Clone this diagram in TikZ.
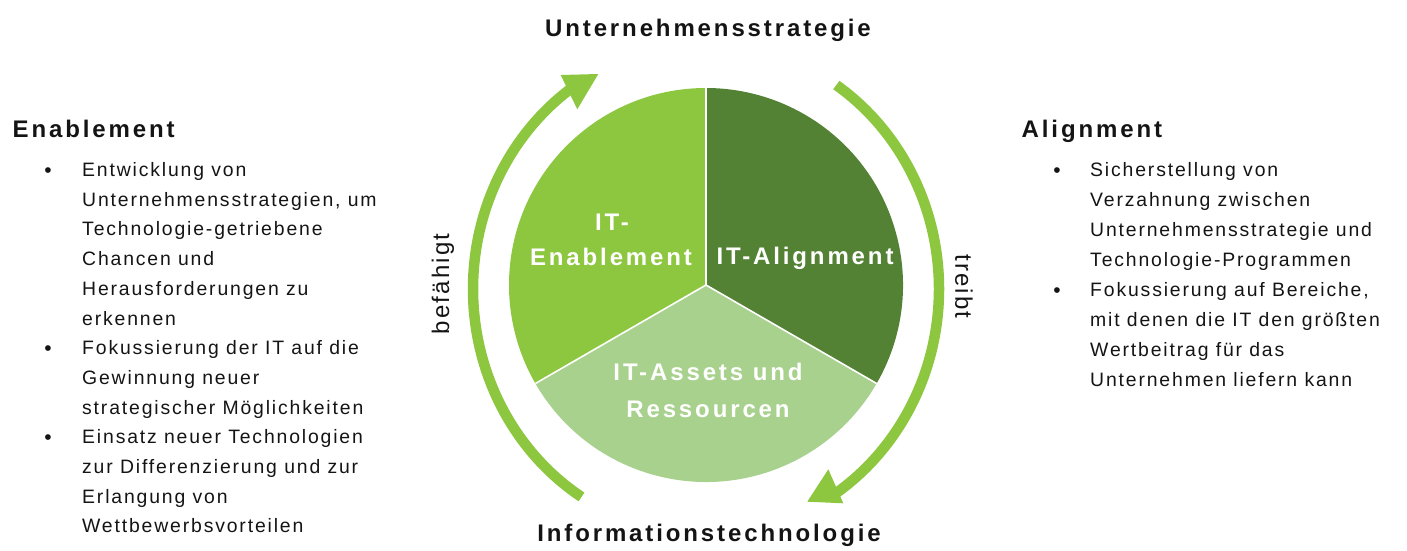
\documentclass[tikz,border=0pt]{standalone}
\usepackage{fontspec}
\setmainfont{Liberation Sans}
\newfontfamily\bodyfont[LetterSpace=9.5]{Liberation Sans}
\newfontfamily\sidefont[LetterSpace=9]{Liberation Sans}
\newfontfamily\headfont[LetterSpace=12]{Liberation Sans}
\usetikzlibrary{calc}
\definecolor{gLight}{RGB}{141,198,63}
\definecolor{gDark}{RGB}{84,130,53}
\definecolor{gPale}{RGB}{169,209,142}
\definecolor{gArrow}{RGB}{141,198,63}
\definecolor{txt}{RGB}{20,20,20}
\begin{document}
\begin{tikzpicture}[x=1pt,y=1pt,
  head/.style={font=\headfont\bfseries\fontsize{24}{28}\selectfont, text=txt, inner sep=0pt},
  body/.style={font=\bodyfont\fontsize{19.4}{29.7}\selectfont, text=txt, inner sep=0pt, align=left, anchor=base west},
  bodyr/.style={body, font=\bodyfont\fontsize{19.4}{30}\selectfont},
  bul/.style={font=\fontsize{21}{22}\selectfont, text=txt, inner sep=0pt, anchor=base},
  pielbl/.style={font=\headfont\bfseries\fontsize{24}{28}\selectfont, text=white, inner sep=0pt, anchor=base},
  side/.style={font=\sidefont\fontsize{24}{28}\selectfont, text=txt, inner sep=0pt},
  shaft/.style={draw=gArrow, line width=10.5pt},
  tiphead/.style={fill=gArrow}
]
\useasboundingbox (0,0) rectangle (1407,-551);
\coordinate (O) at (706,-285);
\def\R{197}
% pie sectors
\fill[gLight] (O) -- ($(O)+(90:\R)$) arc[start angle=90,end angle=210,radius=\R] -- cycle;
\fill[gDark] (O) -- ($(O)+(-30:\R)$) arc[start angle=-30,end angle=90,radius=\R] -- cycle;
\fill[gPale] (O) -- ($(O)+(210:\R)$) arc[start angle=210,end angle=330,radius=\R] -- cycle;
\draw[white, line width=1.6pt] (O) -- ($(O)+(90:\R)$);
\draw[white, line width=1.6pt] (O) -- ($(O)+(210:\R)$);
\draw[white, line width=1.6pt] (O) -- ($(O)+(330:\R)$);
% arrows
\coordinate (A) at (706,-289);
\draw[shaft] ($(A)+(237.7:233 and 246)$) arc[start angle=237.7,end angle=124.5,x radius=233,y radius=246];
\coordinate (t1a) at (560.7,-75);
\coordinate (t1b) at (598.3,-74);
\coordinate (t1c) at (577.3,-109.3);
\fill[tiphead] (t1a) -- (t1b) -- (t1c) -- cycle;
\draw[shaft] ($(A)+(56:233 and 246)$) arc[start angle=56,end angle=-57,x radius=233,y radius=246];
\coordinate (t2a) at (828.3,-469.3);
\coordinate (t2b) at (843.3,-503.3);
\coordinate (t2c) at (807.3,-501.7);
\fill[tiphead] (t2a) -- (t2b) -- (t2c) -- cycle;
% pie labels
\node[pielbl] (pe1) at (612,-230) {IT-};
\node[pielbl] (pe2) at (611,-265) {Enablement};
\node[pielbl] (pa) at (805,-264) {IT-Alignment};
\node[pielbl] (pr1) at (708,-380) {IT-Assets und};
\node[pielbl] (pr2) at (708,-417) {Ressourcen};
% side labels
\node[side, rotate=90] (bef) at (443,-284) {befähigt};
\node[side, rotate=-90] (tre) at (964,-286.5) {treibt};
% titles
\node[head, anchor=base] (top) at (708,-37) {Unternehmensstrategie};
\node[head, anchor=base] (bot) at (709,-541.5) {Informationstechnologie};
\node[head, anchor=base west] (en) at (12.5,-137) {Enablement};
\node[head, anchor=base west] (al) at (1021.5,-137) {Alignment};
% left list (anchor = baseline of last line)
\node[bul] (lb1) at (48,-177) {•};
\node[body] (l1) at (82,-325.0) {Entwicklung von\\Unternehmensstrategien, um\\Technologie-getriebene\\Chancen und\\Herausforderungen zu\\erkennen};
\node[bul] (lb2) at (48,-355.2) {•};
\node[body] (l2) at (82,-414.1) {Fokussierung der IT auf die\\Gewinnung neuer\\strategischer Möglichkeiten};
\node[bul] (lb3) at (48,-444.3) {•};
\node[body] (l3) at (82,-532.9) {Einsatz neuer Technologien\\zur Differenzierung und zur\\Erlangung von\\Wettbewerbsvorteilen};
% right list
\node[bul] (rb1) at (1057,-177) {•};
\node[bodyr] (r1) at (1090,-266.5) {Sicherstellung von\\Verzahnung zwischen\\Unternehmensstrategie und\\Technologie-Programmen};
\node[bul] (rb2) at (1057,-297) {•};
\node[bodyr] (r2) at (1090,-386.5) {Fokussierung auf Bereiche,\\mit denen die IT den größten\\Wertbeitrag für das\\Unternehmen liefern kann};
\end{tikzpicture}
\end{document}
